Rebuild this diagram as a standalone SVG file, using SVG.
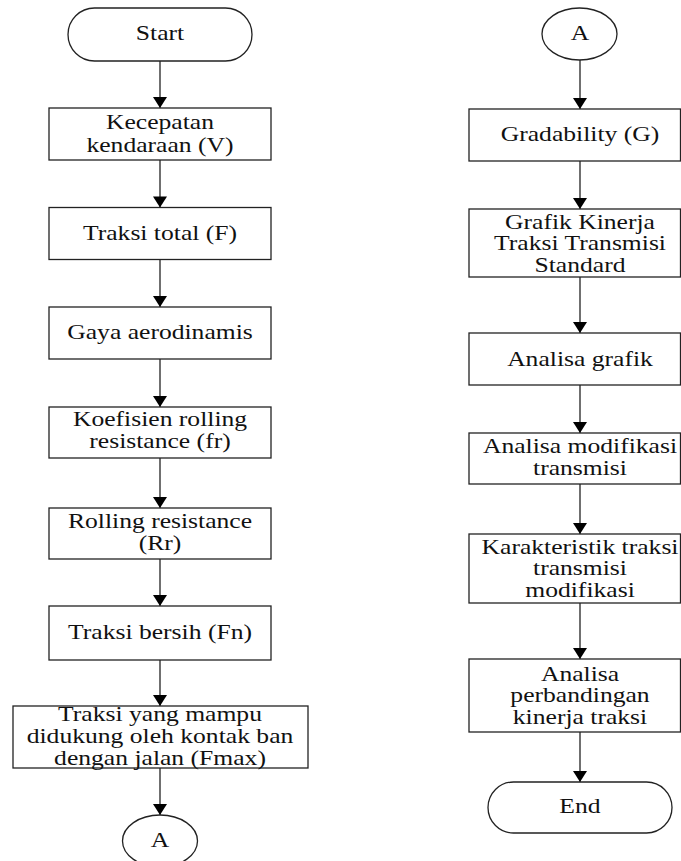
<svg xmlns="http://www.w3.org/2000/svg" width="681" height="861" viewBox="0 0 681 861">
<style>
.box{fill:#fff;stroke:#222;stroke-width:1.3}
.t{font-family:"Liberation Serif","Times New Roman",serif;font-size:21px;fill:#111;text-anchor:middle}
.c{fill:none;stroke:#222;stroke-width:1.3}
</style>
<defs>
<marker id="ah" markerUnits="userSpaceOnUse" markerWidth="12" markerHeight="14" viewBox="0 0 11 14" refX="11" refY="7" orient="auto">
<path d="M0,0 L11,7 L0,14 Z" fill="#000"/>
</marker>
</defs>
<rect width="681" height="861" fill="#fff"/>
<g id="connectors">
<path class="c" d="M160,61V108" marker-end="url(#ah)"/>
<path class="c" d="M160,160V207.5" marker-end="url(#ah)"/>
<path class="c" d="M160,259.5V307" marker-end="url(#ah)"/>
<path class="c" d="M160,359V407" marker-end="url(#ah)"/>
<path class="c" d="M160,458V508" marker-end="url(#ah)"/>
<path class="c" d="M160,559V606" marker-end="url(#ah)"/>
<path class="c" d="M160,660V706" marker-end="url(#ah)"/>
<path class="c" d="M160,768V815" marker-end="url(#ah)"/>
<path class="c" d="M580,60V109" marker-end="url(#ah)"/>
<path class="c" d="M580,161V209" marker-end="url(#ah)"/>
<path class="c" d="M580,277V333" marker-end="url(#ah)"/>
<path class="c" d="M580,385V433" marker-end="url(#ah)"/>
<path class="c" d="M580,484V534" marker-end="url(#ah)"/>
<path class="c" d="M580,603V659" marker-end="url(#ah)"/>
<path class="c" d="M580,732V782" marker-end="url(#ah)"/>
</g>
<g id="start">
<rect class="box" x="68" y="8" width="184" height="53" rx="26.5"/>
<text class="t" transform="translate(160,40) scale(1.22,1)">Start</text>
</g>
<g id="kecepatan">
<rect class="box" x="49" y="108" width="222" height="52"/>
<text class="t" transform="translate(160,129) scale(1.22,1)">Kecepatan</text>
<text class="t" transform="translate(160,152) scale(1.22,1)">kendaraan (V)</text>
</g>
<g id="traksi-total">
<rect class="box" x="49" y="207.5" width="222" height="52"/>
<text class="t" transform="translate(160,240) scale(1.22,1)">Traksi total (F)</text>
</g>
<g id="gaya">
<rect class="box" x="49" y="307" width="222" height="52"/>
<text class="t" transform="translate(160,339) scale(1.22,1)">Gaya aerodinamis</text>
</g>
<g id="koefisien">
<rect class="box" x="49" y="407" width="222" height="51"/>
<text class="t" transform="translate(160,425.5) scale(1.22,1)">Koefisien rolling</text>
<text class="t" transform="translate(160,448) scale(1.22,1)">resistance (fr)</text>
</g>
<g id="rolling">
<rect class="box" x="49" y="508" width="222" height="51"/>
<text class="t" transform="translate(160,528) scale(1.22,1)">Rolling resistance</text>
<text class="t" transform="translate(160,550) scale(1.22,1)">(Rr)</text>
</g>
<g id="bersih">
<rect class="box" x="49" y="606" width="222" height="54"/>
<text class="t" transform="translate(160,639) scale(1.22,1)">Traksi bersih (Fn)</text>
</g>
<g id="fmax">
<rect class="box" x="13" y="706" width="295" height="62"/>
<text class="t" transform="translate(160,721) scale(1.22,1)">Traksi yang mampu</text>
<text class="t" transform="translate(160,743) scale(1.22,1)">didukung oleh kontak ban</text>
<text class="t" transform="translate(160,765) scale(1.22,1)">dengan jalan (Fmax)</text>
</g>
<g id="conn-a-out">
<ellipse class="box" cx="160" cy="841" rx="37.5" ry="26"/>
<text class="t" transform="translate(160,847) scale(1.22,1)">A</text>
</g>
<g id="conn-a-in">
<ellipse class="box" cx="579.5" cy="34" rx="37.5" ry="26"/>
<text class="t" transform="translate(580,40) scale(1.22,1)">A</text>
</g>
<g id="gradability">
<rect class="box" x="469" y="109" width="211.5" height="52"/>
<text class="t" transform="translate(580,141) scale(1.22,1)">Gradability (G)</text>
</g>
<g id="grafik-kinerja">
<rect class="box" x="469" y="209" width="211.5" height="68"/>
<text class="t" transform="translate(580,229) scale(1.22,1)">Grafik Kinerja</text>
<text class="t" transform="translate(580,250) scale(1.22,1)">Traksi Transmisi</text>
<text class="t" transform="translate(580,271.5) scale(1.22,1)">Standard</text>
</g>
<g id="analisa-grafik">
<rect class="box" x="469" y="333" width="211.5" height="52"/>
<text class="t" transform="translate(580,366) scale(1.22,1)">Analisa grafik</text>
</g>
<g id="analisa-modifikasi">
<rect class="box" x="469" y="433" width="211.5" height="51"/>
<text class="t" transform="translate(580,452.5) scale(1.22,1)">Analisa modifikasi</text>
<text class="t" transform="translate(580,474.5) scale(1.22,1)">transmisi</text>
</g>
<g id="karakteristik">
<rect class="box" x="469" y="534" width="211.5" height="69"/>
<text class="t" transform="translate(580,553.5) scale(1.22,1)">Karakteristik traksi</text>
<text class="t" transform="translate(580,575) scale(1.22,1)">transmisi</text>
<text class="t" transform="translate(580,596.5) scale(1.22,1)">modifikasi</text>
</g>
<g id="perbandingan">
<rect class="box" x="469" y="659" width="211.5" height="73"/>
<text class="t" transform="translate(580,680.5) scale(1.22,1)">Analisa</text>
<text class="t" transform="translate(580,702) scale(1.22,1)">perbandingan</text>
<text class="t" transform="translate(580,723.5) scale(1.22,1)">kinerja traksi</text>
</g>
<g id="end">
<rect class="box" x="488" y="782" width="184" height="51" rx="25.5"/>
<text class="t" transform="translate(580,813) scale(1.22,1)">End</text>
</g>
</svg>
